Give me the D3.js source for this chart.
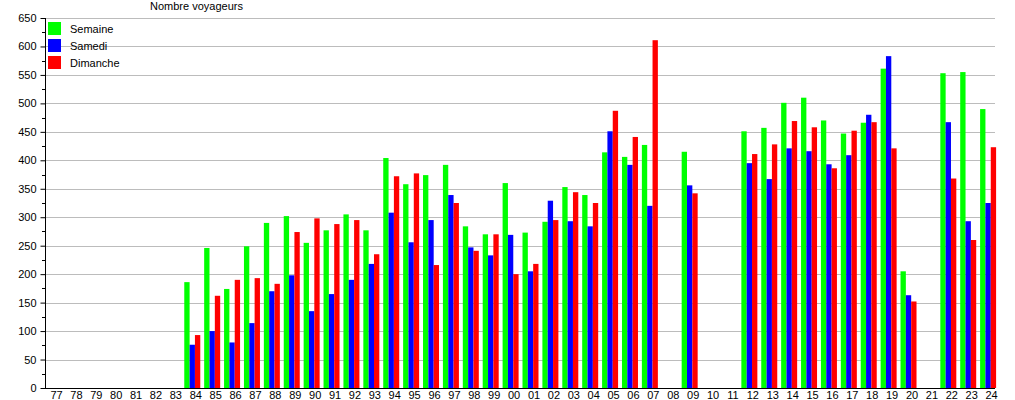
<!DOCTYPE html>
<html>
<head>
<meta charset="utf-8">
<script src="https://cdn.jsdelivr.net/npm/d3@7"></script>
<style>
  body { margin: 0; background: #fff; }
  text { font-family: "Liberation Sans", Arial, sans-serif; font-size: 11px; fill: #000; }
</style>
</head>
<body>
<div id="chart"></div>
<script>
var years = ['77','78','79','80','81','82','83','84','85','86','87','88','89','90','91','92','93','94','95','96',
    '97','98','99','00','01','02','03','04','05','06','07','08','09','10','11','12','13','14','15','16',
    '17','18','19','20','21','22','23','24'];

var semaine = [null,null,null,null,null,null,null,186,246,174,249,290,302,255,277,305,277,404,358,374,
    392,284,270,360,273,292,353,339,414,406,427,null,415,null,null,451,457,501,510,470,
    447,466,561,205,null,553,555,490];
var samedi = [null,null,null,null,null,null,null,76,100,80,114,170,198,135,165,190,218,308,256,295,
    339,247,233,269,205,329,293,284,451,392,320,null,356,null,null,395,367,421,416,393,
    409,480,583,163,null,467,293,325];
var dimanche = [null,null,null,null,null,null,null,93,162,190,193,183,274,298,288,295,235,372,377,216,
    325,241,270,200,218,295,344,325,487,441,611,null,342,null,null,411,428,469,458,386,
    452,467,421,152,null,368,260,423];

var seriesNames = ['Semaine', 'Samedi', 'Dimanche'];
var seriesColors = ['#00ff00', '#0000ff', '#ff0000'];
var yTicks = d3.range(0, 651, 50);

var width = 1015, height = 400;
var margin = {top: 18, right: 20, bottom: 12, left: 45};
var plotBottom = height - margin.bottom;

var svg = d3.select('#chart')
    .append('svg')
    .attr('width', width)
    .attr('height', height);

var x = d3.scaleBand()
    .domain(years)
    .range([margin.left, 1000])
    .paddingInner(0)
    .paddingOuter(0);

var y = d3.scaleLinear()
    .domain([0, 650])
    .range([plotBottom, margin.top]);

var barW = x.bandwidth() * 0.268;

//Gridlines
svg.append('g')
    .selectAll('line')
    .data(yTicks)
    .enter()
    .append('line')
    .attr('x1', margin.left)
    .attr('x2', 995)
    .attr('y1', function(d){ return Math.round(y(d)) + 0.5; })
    .attr('y2', function(d){ return Math.round(y(d)) + 0.5; })
    .style('stroke', '#bcbcbc')
    .style('stroke-width', 1);

//Bars
var allSeries = [semaine, samedi, dimanche];
allSeries.forEach(function(values, s){
    svg.append('g')
        .selectAll('rect')
        .data(years.map(function(yr, i){ return {year: yr, value: values[i]}; })
            .filter(function(d){ return d.value != null; }))
        .enter()
        .append('rect')
        .attr('x', function(d){ return x(d.year) + s * barW; })
        .attr('width', barW)
        .attr('y', function(d){ return y(d.value); })
        .attr('height', function(d){ return plotBottom - y(d.value); })
        .style('fill', seriesColors[s]);
});

//Y axis
var yAxis = d3.axisLeft(y)
    .tickValues(yTicks)
    .tickSize(5)
    .tickPadding(4);
var yG = svg.append('g')
    .attr('transform', 'translate(' + (margin.left + 0.5) + ',0)')
    .call(yAxis);
yG.select('.domain').attr('d', 'M0,' + margin.top + 'V' + plotBottom).style('stroke', '#000');
yG.selectAll('.tick line').style('stroke', '#000');
yG.selectAll('.tick text')
    .attr('font-family', null)
    .attr('font-size', null);

//Minor ticks
svg.append('g')
    .selectAll('line')
    .data(d3.range(25, 650, 50))
    .enter()
    .append('line')
    .attr('x1', margin.left - 3)
    .attr('x2', margin.left)
    .attr('y1', function(d){ return Math.round(y(d)) + 0.5; })
    .attr('y2', function(d){ return Math.round(y(d)) + 0.5; })
    .style('stroke', '#000');

//X axis
svg.append('line')
    .attr('x1', margin.left)
    .attr('x2', 995)
    .attr('y1', plotBottom + 0.5)
    .attr('y2', plotBottom + 0.5)
    .style('stroke', '#000');

svg.append('g')
    .selectAll('text')
    .data(years)
    .enter()
    .append('text')
    .attr('x', function(d){ return x(d) + 11.5; })
    .attr('y', plotBottom + 11)
    .attr('text-anchor', 'middle')
    .text(function(d){ return d; });

//Title
svg.append('text')
    .attr('x', 150)
    .attr('y', 10)
    .text('Nombre voyageurs');

//Legend
var legend = svg.append('g')
    .selectAll('g')
    .data(seriesNames)
    .enter()
    .append('g')
    .attr('transform', function(d, i){ return 'translate(48,' + (22 + i * 17) + ')'; });
legend.append('rect')
    .attr('width', 13)
    .attr('height', 13)
    .style('fill', function(d, i){ return seriesColors[i]; });
legend.append('text')
    .attr('x', 22)
    .attr('y', 11)
    .text(function(d){ return d; });
</script>
</body>
</html>
